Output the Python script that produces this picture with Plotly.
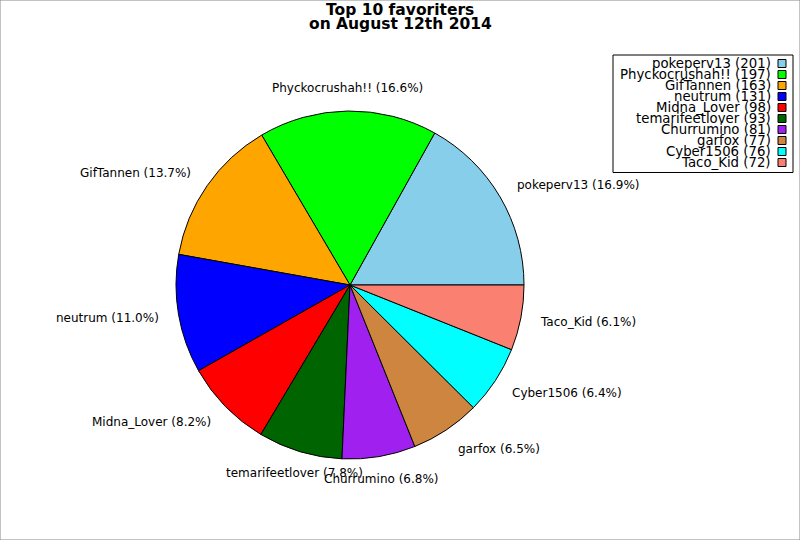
import math
import plotly.graph_objects as go

# ------------------------------------------------------------
# DATA
# ------------------------------------------------------------
names = ["pokeperv13", "Phyckocrushah!!", "GifTannen", "neutrum", "Midna_Lover",
         "temarifeetlover", "Churrumino", "garfox", "Cyber1506", "Taco_Kid"]
favs = [201, 197, 163, 131, 98, 93, 81, 77, 76, 72]
colors = ["#87CEEB", "#00FF00", "#FFA500", "#0000FF", "#FF0000",
          "#006400", "#A020F0", "#CD853F", "#00FFFF", "#FA8072"]
title_lines = ["Top 10 favoriters", "on August 12th 2014"]

# ------------------------------------------------------------
# LAYOUT CONSTANTS (pixels)
# ------------------------------------------------------------
W, H = 800, 540
cx, cy, R = 350, 285, 174
FONT = "DejaVu Sans"


def px(x):
    return x / W


def py(y):
    return 1 - y / H


total = sum(favs)

# plotly puts the first slice clockwise of `rotation` when going ccw,
# so shift it to make slice 1 start at 3 o'clock like matplotlib
fig = go.Figure(go.Pie(
    labels=names,
    values=favs,
    sort=False,
    direction="counterclockwise",
    rotation=90 - 360 * favs[0] / total,
    textinfo="none",
    hoverinfo="label+value+percent",
    marker=dict(colors=colors, line=dict(color="black", width=1)),
    domain=dict(x=[px(cx - R), px(cx + R)], y=[py(cy + R), py(cy - R)]),
    showlegend=False,
))

annotations = []
shapes = []

# slice labels (labeldistance 1.1); near-vertical ones are centred
cum = 0
for name, v in zip(names, favs):
    mid = 2 * math.pi * (cum + v / 2) / total
    cum += v
    c = math.cos(mid)
    lx = cx + 1.1 * R * c
    ly = cy - 1.13 * R * math.sin(mid)
    if abs(c) < 0.4:
        anchor = "center"
    else:
        anchor = "left" if c > 0 else "right"
    annotations.append(dict(
        x=px(lx), y=py(ly), xref="paper", yref="paper",
        text=f"{name} ({100 * v / total:.1f}%)", showarrow=False,
        xanchor=anchor, yanchor="middle",
        font=dict(family=FONT, size=12, color="black"),
    ))

# title (two lines, tight spacing)
for i, t in enumerate(title_lines):
    annotations.append(dict(
        x=0.5, y=py(10 + 14 * i), xref="paper", yref="paper",
        text=f"<b>{t}</b>", showarrow=False, xanchor="center", yanchor="middle",
        font=dict(family=FONT, size=15.5, color="black"),
    ))

# custom legend: text right-aligned, box on the right
shapes.append(dict(type="rect", xref="paper", yref="paper",
                   x0=px(613), x1=px(793), y0=py(172.5), y1=py(55),
                   line=dict(color="black", width=1), fillcolor="white", layer="below"))
for i, (name, v, col) in enumerate(zip(names, favs, colors)):
    yc = 63.5 + 11 * i
    annotations.append(dict(
        x=px(773), y=py(yc), xref="paper", yref="paper",
        text=f"{name} ({v})", showarrow=False, xanchor="right", yanchor="middle",
        font=dict(family=FONT, size=13.3, color="black"),
    ))
    shapes.append(dict(type="rect", xref="paper", yref="paper",
                       x0=px(778), x1=px(786), y0=py(yc + 4), y1=py(yc - 4),
                       line=dict(color="black", width=1), fillcolor=col))

# outer frame
shapes.append(dict(type="rect", xref="paper", yref="paper", x0=0, x1=1, y0=0, y1=1,
                   line=dict(color="#888888", width=1)))

fig.update_layout(
    width=W, height=H,
    margin=dict(l=0, r=0, t=0, b=0),
    paper_bgcolor="white",
    plot_bgcolor="white",
    font=dict(family=FONT, size=12, color="black"),
    annotations=annotations,
    shapes=shapes,
)

fig.write_html("out.html", config={"displayModeBar": False},
               post_script="document.body.style.margin='0';document.body.style.overflow='hidden';")
